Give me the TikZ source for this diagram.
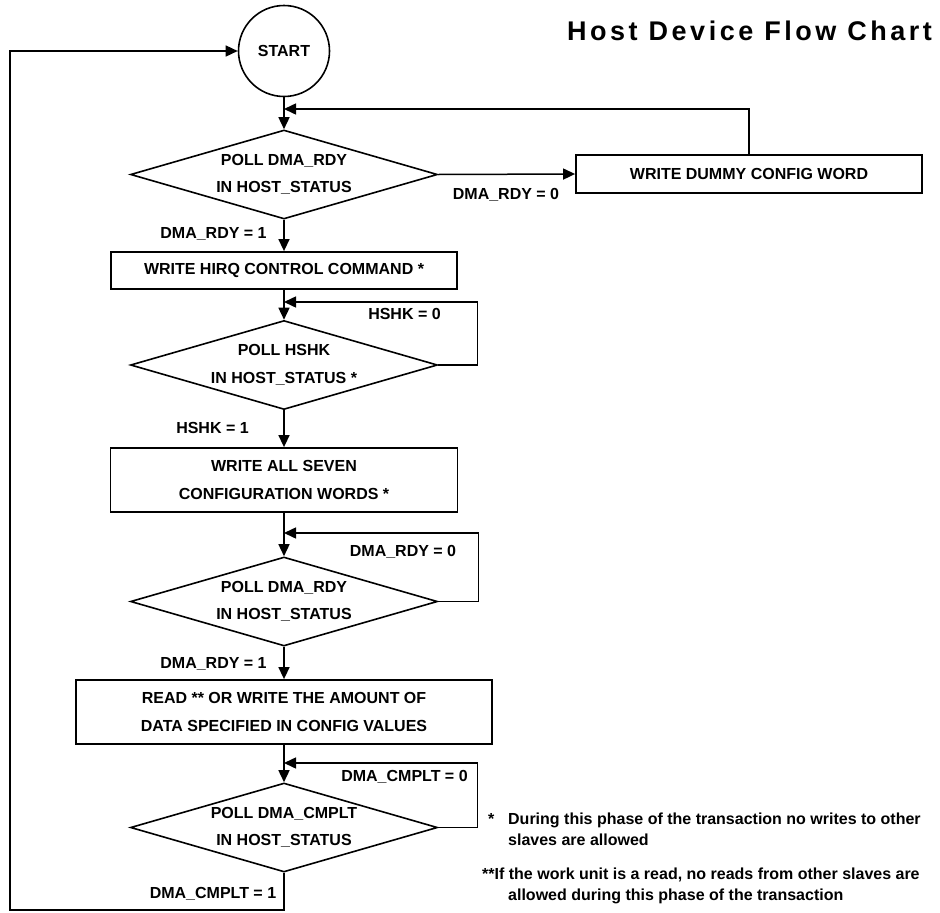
\documentclass[tikz,border=0pt]{standalone}
\usepackage{fontspec}
\setmainfont{Liberation Sans}
\newfontfamily\titlefont[LetterSpace=13]{Liberation Sans}
\usetikzlibrary{shapes.geometric,arrows.meta}
\begin{document}
\begin{tikzpicture}[x=1pt,y=-1pt,
  every node/.style={font=\fontsize{16}{27.5}\selectfont\bfseries},
  stepbox/.style={draw, line width=1.8pt, rectangle, inner sep=0pt, align=center},
  decision/.style={draw, line width=1.6pt, diamond, aspect=3.449, inner sep=0pt, minimum width=307pt, minimum height=89pt, align=center},
  startnode/.style={draw, line width=1.6pt, circle, minimum size=91pt, inner sep=0pt},
  conn/.style={line width=1.5pt},
  arr/.style={conn, -{Triangle[length=12pt,width=11pt]}},
  lbl/.style={anchor=base, inner sep=0pt},
  note/.style={anchor=base west, inner sep=0pt},
]
\useasboundingbox (0,0) rectangle (940,913);

\node[anchor=base west, inner sep=0pt, font=\titlefont\fontsize{27}{30}\selectfont\bfseries] (title) at (567,40) {Host Device Flow Chart};

\node[startnode] (start) at (284,51) {START};
\node[decision] (d1) at (284,174.5) {POLL DMA\_RDY\\IN HOST\_STATUS};
\node[stepbox, minimum width=346pt, minimum height=38pt] (b2) at (749,174) {WRITE DUMMY CONFIG WORD};
\node[stepbox, minimum width=346pt, minimum height=37pt] (b1) at (284,270.5) {WRITE HIRQ CONTROL COMMAND *};
\node[decision] (d2) at (284,365) {POLL HSHK\\IN HOST\_STATUS *};
\node[stepbox, minimum width=347pt, minimum height=64pt] (b3) at (284,480) {WRITE ALL SEVEN\\CONFIGURATION WORDS *};
\node[decision] (d3) at (284,601.5) {POLL DMA\_RDY\\IN HOST\_STATUS};
\node[stepbox, minimum width=416pt, minimum height=64pt] (b4) at (284,712) {READ ** OR WRITE THE AMOUNT OF\\DATA SPECIFIED IN CONFIG VALUES};
\node[decision] (d4) at (284,827.5) {POLL DMA\_CMPLT\\IN HOST\_STATUS};

\coordinate (j1) at (284,109);
\coordinate (j2) at (284,302);
\coordinate (j3) at (284,533);
\coordinate (j4) at (284,763);
\coordinate (lb) at (10,910);

\draw[arr] (start) -- (d1);
\draw[arr] (d1.east) -- (b2.west);
\draw[arr] (b2.north) |- (j1);
\draw[arr] (d1) -- (b1);
\draw[arr] (b1) -- (d2);
\draw[arr] (d2.east) -- ++(39,0) |- (j2);
\draw[arr] (d2) -- (b3);
\draw[arr] (b3) -- (d3);
\draw[arr] (d3.east) -- ++(40,0) |- (j3);
\draw[arr] (d3) -- (b4);
\draw[arr] (b4) -- (d4);
\draw[arr] (d4.east) -- ++(39,0) |- (j4);
\draw[arr] (d4.south) |- (lb) |- (start.west);

\node[lbl] (l1) at (506,199.7) {DMA\_RDY = 0};
\node[lbl] (l2) at (213.5,238.7) {DMA\_RDY = 1};
\node[lbl] (l3) at (404.5,319.7) {HSHK = 0};
\node[lbl] (l4) at (212.5,433.7) {HSHK = 1};
\node[lbl] (l5) at (403,556.7) {DMA\_RDY = 0};
\node[lbl] (l6) at (213.5,668.7) {DMA\_RDY = 1};
\node[lbl] (l7) at (404.5,781.7) {DMA\_CMPLT = 0};
\node[lbl] (l8) at (213,898.7) {DMA\_CMPLT = 1};

\node[note] (n1) at (488,824) {\makebox[20pt][l]{*}During this phase of the transaction no writes to other};
\node[note] (n2) at (508,845) {slaves are allowed};
\node[note] (n3) at (482,879) {**If the work unit is a read, no reads from other slaves are};
\node[note] (n4) at (508,900) {allowed during this phase of the transaction};
\end{tikzpicture}
\end{document}
